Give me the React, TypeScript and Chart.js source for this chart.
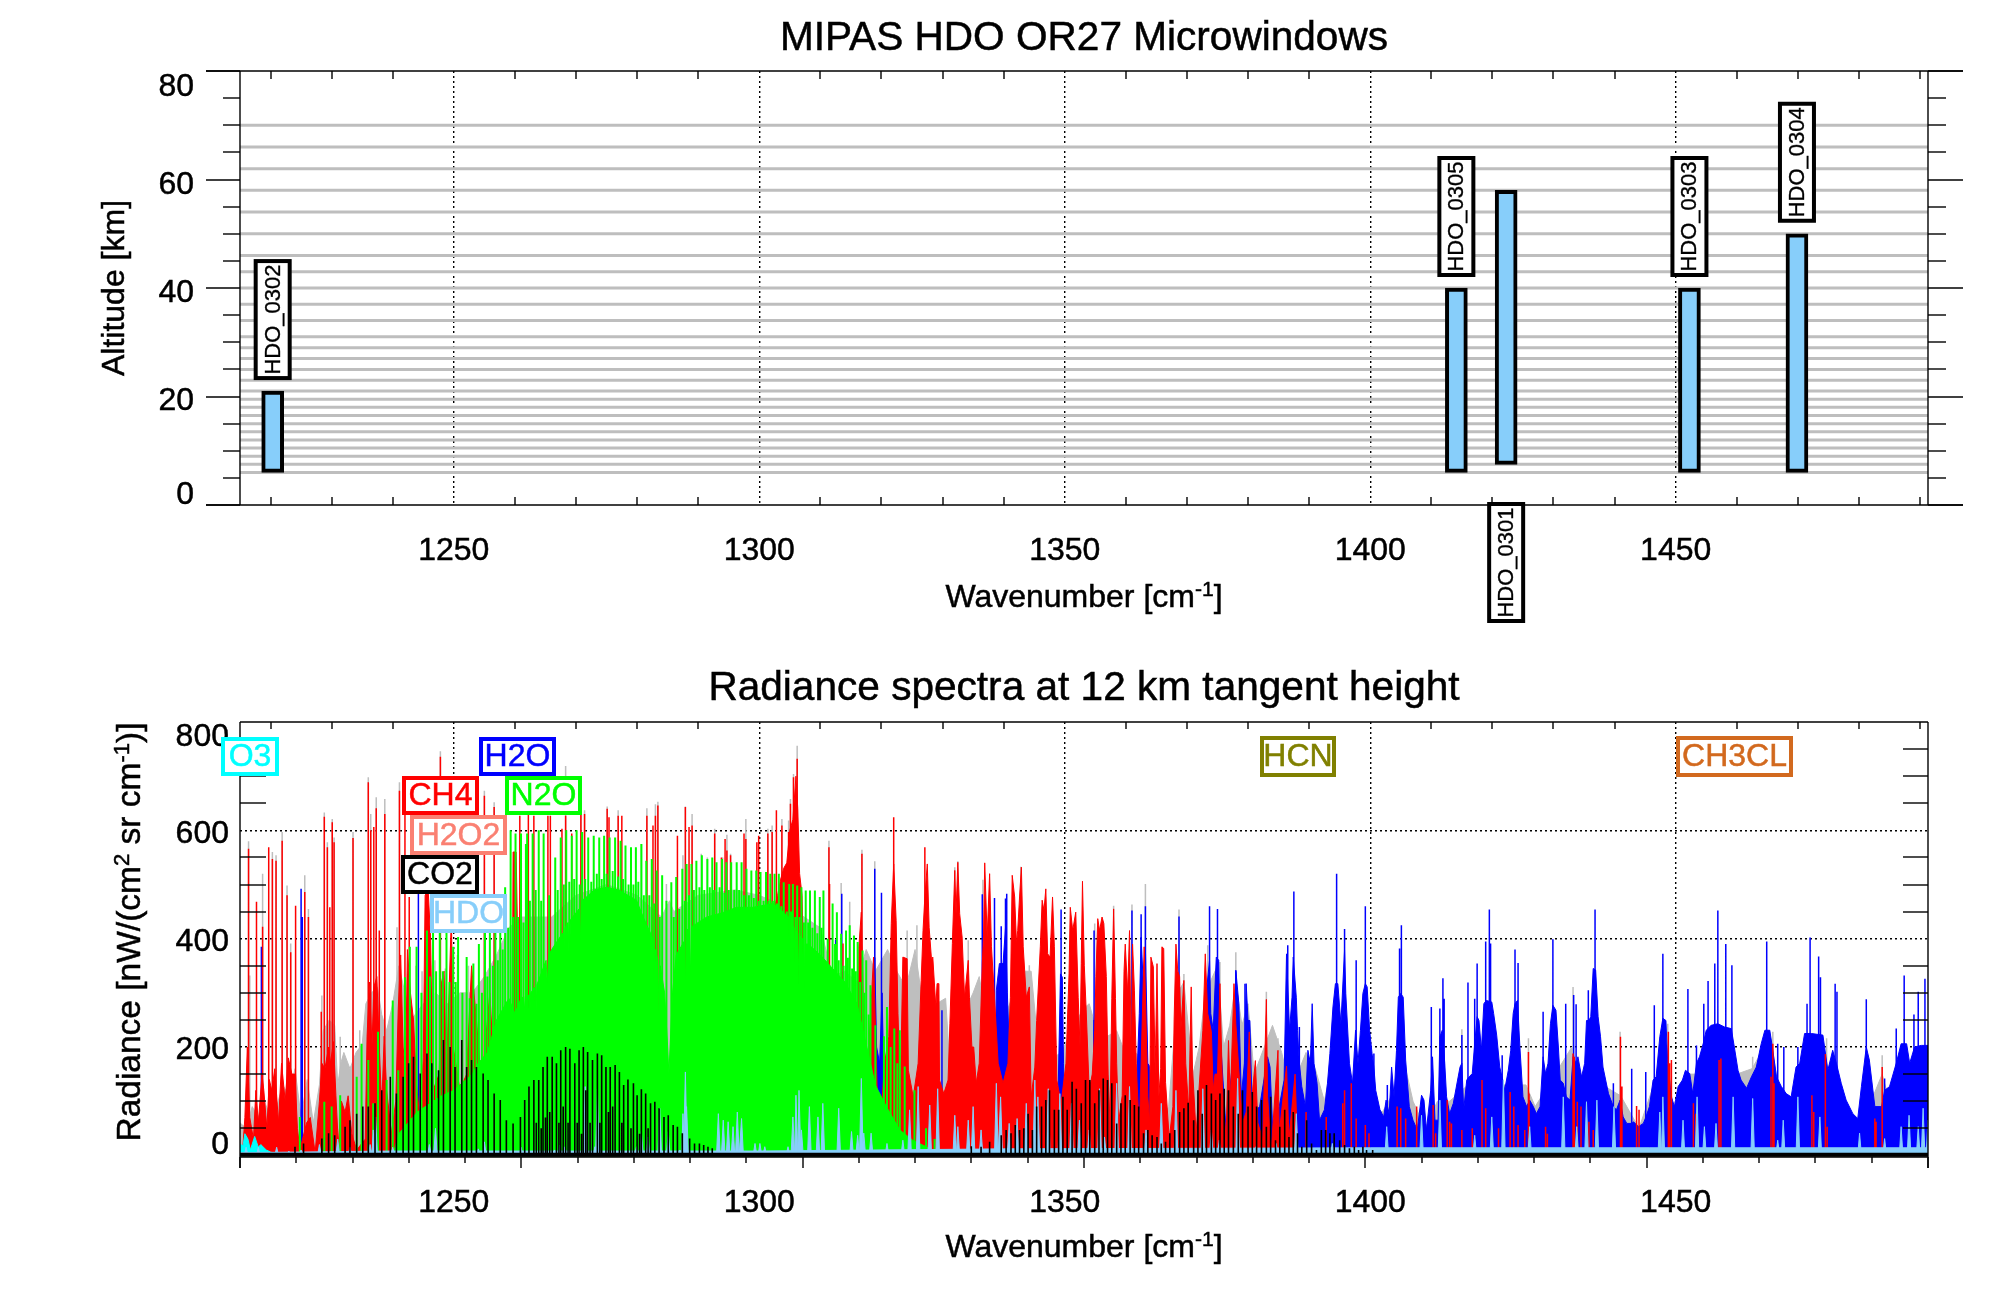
import React, { useEffect, useRef } from "react";
import { Chart, registerables } from "chart.js";

Chart.register(...registerables);

type Pair = [number, number];

const FONT = '"Liberation Sans", Arial, sans-serif';

const topTitle = "MIPAS HDO OR27 Microwindows";
const lowerTitle = "Radiance spectra at 12 km tangent height";
const xTickValues = [1250, 1300, 1350, 1400, 1450];
const xMinorValues = [1220, 1230, 1240, 1260, 1270, 1280, 1290, 1310, 1320, 1330, 1340, 1360, 1370, 1380, 1390, 1410, 1420, 1430, 1440, 1460, 1470, 1480, 1490];
const altMajor = [0, 20, 40, 60, 80];
const altMinor = [5, 10, 15, 25, 30, 35, 45, 50, 55, 65, 70, 75];
const radMajor = [0, 200, 400, 600, 800];
const radMinor = [50, 100, 150, 250, 300, 350, 450, 500, 550, 650, 700, 750];
const tangentHeights = [6, 7.5, 9, 10.5, 12, 13.5, 15, 16.5, 18, 19.5, 21, 23, 25, 27, 29, 31, 34, 37, 40, 43, 46, 50, 54, 58, 62, 66, 70];

const windowNames = ["HDO_0302", "HDO_0305", "HDO_0301", "HDO_0303", "HDO_0304"];
const windowStart = [1218.7, 1412.4, 1420.6, 1450.6, 1468.3];
const windowEnd = [1222.0, 1415.8, 1423.9, 1453.9, 1471.4];
const windowLow = [6, 6, 7.5, 6, 6];
const windowHigh = [21, 40, 58, 40, 50];

const legendNames = ["O3", "H2O", "CH4", "N2O", "H2O2", "CO2", "HDO", "HCN", "CH3CL"];
const legendColors = ["#00ffff", "#0000ff", "#ff0000", "#00ff00", "#fa8072", "#000000", "#87cefa", "#808000", "#d2691e"];

const grayBand: Pair[] = [[1215,60],[1216,50],[1217,90],[1218,70],[1219,100],[1220,70],[1221,90],[1222,130],[1223,110],[1224,160],[1225,70],[1226,140],[1227,60],[1228,130],[1228.6,230],[1229.6,250],[1230.5,240],[1231,130],[1231.5,170],[1232,190],[1233,160],[1234,190],[1235,205],[1235.6,280],[1236.5,300],[1237.5,310],[1238.2,260],[1239,230],[1240,280],[1241,350],[1242,300],[1243,250],[1245,280],[1247,300],[1249,280],[1251,300],[1253,300],[1255,330],[1257,370],[1259,420],[1261,440],[1263,440],[1266,440],[1270,480],[1275,500],[1280,480],[1284,440],[1285.3,470],[1286,450],[1290,480],[1296,490],[1300,480],[1306,450],[1310,420],[1312,330],[1314,340],[1316,320],[1317.5,380],[1319,340],[1321,380],[1322.5,340],[1324,310],[1325.5,380],[1326.5,300],[1329,280],[1330.5,290],[1331,200],[1335,300],[1336,330],[1338,200],[1340,250],[1343,340],[1344.5,340],[1345.5,220],[1348,180],[1349.5,190],[1351,230],[1353,270],[1354,280],[1356,200],[1357,220],[1358.5,230],[1359.5,200],[1361.5,190],[1363.5,170],[1366,60],[1367,90],[1368.5,300],[1369.5,320],[1371,150],[1372,200],[1373,300],[1375,350],[1376,200],[1377,240],[1378,320],[1379,240],[1380,280],[1381,150],[1382,180],[1384,240],[1385.5,190],[1387,120],[1389.5,190],[1391,160],[1392.5,100],[1393.5,160],[1396,120],[1397,130],[1399,100],[1402,80],[1404,120],[1405,200],[1407,100],[1409,50],[1411,100],[1413,100],[1415,120],[1418,150],[1421,130],[1425.5,130],[1427,90],[1433,200],[1434,150],[1438,130],[1441,110],[1444,50],[1448.5,200],[1449.5,90],[1452,150],[1454,150],[1456,200],[1460,150],[1462.5,160],[1465.5,220],[1467,110],[1471,100],[1474,210],[1476,100],[1480,50],[1482,100],[1483.8,150],[1485,100],[1491.3,180]];

const grayLines: Pair[] = [[1216.4,580],[1216.6,332],[1218.7,520],[1220.3,560],[1220.9,554],[1221.9,597],[1222.7,498],[1223.3,391],[1225.6,517],[1226.2,455],[1228.4,295],[1228.8,633],[1229.3,578],[1230.1,621],[1230.4,587],[1231.4,219],[1233.5,597],[1234.6,231],[1236,698],[1236.4,630],[1237.3,661],[1238.7,658],[1240.7,421],[1241.1,689],[1243.8,350],[1244.8,340],[1246.9,360],[1248.6,345],[1250.6,370],[1252.4,350],[1247.8,746],[1255,673],[1256.6,652],[1268.3,719],[1270.8,658],[1271.4,637],[1275.1,644],[1276.9,637],[1280.7,575],[1281.6,641],[1283,648],[1283.4,653],[1284.8,501],[1287.5,554],[1287.9,644],[1289,630],[1290.5,557],[1291.5,550],[1292.7,603],[1294,550],[1294.7,592],[1295.3,557],[1297.8,621],[1301.4,603],[1302.1,609],[1303.7,621],[1304.8,618],[1305.1,658],[1305.6,704],[1306.2,756],[1311.4,581],[1313.4,503],[1314.8,468],[1316.8,564],[1318.9,543],[1324.2,415],[1325.8,425],[1332,532],[1332.5,543],[1334.2,397],[1336.6,509],[1342.8,533],[1344.2,351],[1354.9,428],[1358,461],[1361,463],[1363.2,501],[1368.7,454],[1369.5,335],[1373.4,388],[1375.4,357],[1378,375],[1380,271],[1383,302],[1384.9,216],[1415,233],[1425.9,216],[1433.2,311],[1440.9,228],[1448.7,243],[1462.6,182],[1465.9,228],[1474.7,216],[1483.8,185]];

const blueBand: Pair[] = [[1318.3,0],[1318.6,170],[1318.9,365],[1319.2,200],[1319.7,170],[1320.1,300],[1320.4,130],[1320.7,0],[1338.2,0],[1338.5,60],[1338.8,305],[1339.3,354],[1339.9,354],[1340.3,420],[1340.6,300],[1341,170],[1341.3,40],[1341.5,0],[1348.6,0],[1348.9,108],[1349.3,335],[1349.6,329],[1349.8,170],[1350.1,0],[1354.4,0],[1354.6,100],[1354.8,250],[1355,100],[1355.2,0],[1361.5,0],[1361.8,139],[1362.2,262],[1362.5,403],[1362.8,329],[1363.2,385],[1363.6,170],[1363.9,164],[1364.1,47],[1364.4,0],[1372,0],[1372.3,90],[1373.1,292],[1373.7,360],[1373.9,262],[1374.3,231],[1374.8,366],[1375.2,360],[1375.4,231],[1375.9,139],[1376.4,47],[1377.8,213],[1378,342],[1378.5,280],[1378.9,108],[1379.4,170],[1379.7,317],[1380,249],[1380.3,249],[1380.7,77],[1381.9,90],[1383.2,182],[1383.6,163],[1384,59],[1385.1,90],[1385.9,139],[1386.3,372],[1386.8,231],[1387.2,292],[1387.4,366],[1387.9,292],[1388.1,231],[1388.4,170],[1388.8,127],[1389.4,90],[1389.8,194],[1390.2,170],[1390.5,280],[1390.8,170],[1391.3,133],[1391.7,65],[1392.5,84],[1393,133],[1393.4,188],[1393.9,274],[1394.3,317],[1394.7,317],[1395.2,243],[1395.8,379],[1396,299],[1396.6,170],[1397.1,133],[1397.6,231],[1398,170],[1398.4,231],[1398.8,299],[1399.2,317],[1399.5,311],[1399.9,231],[1400.3,188],[1400.6,163],[1400.9,120],[1401.6,84],[1402.2,71],[1402.6,102],[1403.1,77],[1403.5,163],[1403.9,108],[1404.3,194],[1404.6,292],[1405,299],[1405.4,292],[1405.8,176],[1406.4,90],[1407,65],[1407.7,47],[1408.4,111],[1408.8,102],[1409.2,47],[1409.9,120],[1410.2,182],[1410.6,65],[1411.1,65],[1411.4,219],[1411.8,231],[1412.2,170],[1412.5,108],[1413,77],[1413.6,96],[1414.3,139],[1414.7,163],[1415,170],[1415.3,84],[1415.8,139],[1416.2,145],[1416.7,151],[1417.1,206],[1417.5,256],[1417.8,249],[1418.2,194],[1418.6,280],[1419,286],[1419.9,283],[1420.2,262],[1420.7,222],[1421.2,163],[1421.7,139],[1422,120],[1422.6,157],[1423,194],[1423.4,262],[1423.7,280],[1424.1,286],[1424.5,200],[1425,108],[1425.6,90],[1426.1,102],[1426.7,90],[1427.2,77],[1427.8,90],[1428.3,182],[1428.7,151],[1429.1,170],[1429.5,243],[1429.9,277],[1430.4,268],[1430.8,200],[1431.1,139],[1431.6,133],[1432.1,108],[1432.7,102],[1433.2,182],[1433.7,170],[1434,182],[1434.6,145],[1435.1,170],[1435.4,249],[1435.8,249],[1436.1,256],[1436.5,345],[1436.9,342],[1437.3,256],[1437.7,219],[1438.1,163],[1439,114],[1439.8,90],[1440.3,84],[1440.9,102],[1441.4,71],[1442,59],[1442.8,59],[1443.1,62],[1443.9,53],[1444.7,59],[1445.1,70],[1445.7,90],[1446.3,139],[1446.8,145],[1447.4,219],[1447.9,253],[1448.4,249],[1448.7,170],[1449.3,108],[1449.8,90],[1450.4,127],[1451.1,139],[1451.6,157],[1452.3,151],[1452.8,114],[1453.4,170],[1453.9,182],[1454.5,206],[1455,231],[1455.8,240],[1456.9,243],[1458,237],[1459.1,234],[1459.6,200],[1460.2,157],[1460.7,139],[1461.6,124],[1462.4,145],[1463.2,163],[1464,206],[1464.6,231],[1465.4,231],[1465.9,194],[1466.5,145],[1467.3,127],[1468.1,114],[1468.9,108],[1469.7,163],[1470.3,170],[1471.1,225],[1472.2,225],[1474.1,222],[1474.9,157],[1475.7,194],[1476.3,170],[1477.1,133],[1477.9,102],[1479,77],[1479.8,68],[1480.4,127],[1481.2,200],[1481.7,176],[1482.6,90],[1483.7,90],[1484.2,120],[1485,127],[1486.1,170],[1486.9,206],[1487.8,206],[1488.3,170],[1489.1,200],[1490.2,203],[1491.3,203]];

const blueLines: Pair[] = [[1218.5,385],[1225,492],[1225.2,440],[1244.2,483],[1308.1,418],[1312.5,398],[1313.5,483],[1318.9,529],[1320,485],[1329.9,268],[1336.5,482],[1338.5,475],[1339.6,423],[1340.3,474],[1340.5,483],[1349.4,454],[1354.8,415],[1361,452],[1362.5,445],[1363.2,460],[1368.7,441],[1373.7,460],[1375,455],[1378,340],[1379.5,317],[1386.5,388],[1387.5,487],[1388.4,237],[1394.5,520],[1395.8,418],[1397.7,360],[1399.2,460],[1400.6,188],[1402.8,130],[1404.8,382],[1405.1,425],[1410,274],[1411.4,271],[1411.9,327],[1412.1,289],[1415,222],[1416,319],[1417.1,289],[1417.5,354],[1418.9,395],[1419.5,454],[1419.7,391],[1421.6,185],[1423.7,380],[1424.2,355],[1428.3,265],[1429.9,399],[1432,280],[1433.3,296],[1433.7,279],[1435.7,305],[1436.8,454],[1439.8,133],[1442.8,160],[1445.1,154],[1446.5,277],[1447.9,372],[1452,307],[1453.4,203],[1454.6,280],[1455.3,322],[1456.4,354],[1456.9,452],[1458.2,390],[1459.2,351],[1464.9,395],[1466.7,206],[1467.7,200],[1470,200],[1471.5,280],[1472,402],[1473.4,367],[1473.7,329],[1476.1,317],[1476.4,302],[1481.2,288],[1484.2,142],[1486.1,234],[1487.4,332],[1489,260],[1489.7,302],[1490.8,326]];

const redBand: Pair[] = [[1215,10],[1215.5,20],[1215.8,70],[1216.2,200],[1216.6,70],[1217.2,30],[1217.6,120],[1218,60],[1218.6,150],[1218.9,120],[1219.4,50],[1219.8,140],[1220.2,120],[1220.7,160],[1221.3,60],[1221.8,170],[1222.4,100],[1222.9,180],[1223.5,150],[1224,150],[1224.4,50],[1224.8,10],[1225.9,60],[1226.5,70],[1227.3,5],[1228,100],[1228.4,170],[1228.9,160],[1229.5,200],[1229.8,170],[1230.3,210],[1230.7,110],[1231.1,20],[1231.6,100],[1232.2,80],[1232.7,110],[1233.3,40],[1234.1,10],[1235.5,30],[1235.8,220],[1236.2,320],[1236.6,200],[1236.9,310],[1237.4,330],[1237.8,200],[1238.2,90],[1238.6,220],[1239,120],[1239.8,40],[1240.5,100],[1240.9,270],[1241.3,370],[1241.7,200],[1242.1,150],[1242.4,380],[1242.9,300],[1243.4,250],[1243.9,130],[1244.5,60],[1245,180],[1245.3,480],[1245.8,490],[1246.2,400],[1246.6,120],[1247.6,150],[1248,320],[1248.4,340],[1248.8,150],[1249.6,440],[1249.9,200],[1251,120],[1252.1,150],[1252.9,350],[1253.7,250],[1254.6,120],[1255.1,200],[1255.9,300],[1256.6,150],[1257.6,40],[1259.5,60],[1259.7,560],[1260.2,560],[1260.6,300],[1261.4,150],[1262.4,200],[1262.8,0],[1299.5,0],[1300,400],[1301,420],[1302,440],[1303,480],[1303.5,510],[1304,530],[1304.5,540],[1305,600],[1305.5,620],[1306,700],[1306.3,640],[1306.6,520],[1307,480],[1307.5,200],[1308,0],[1316,0],[1316.3,385],[1316.7,449],[1317.1,243],[1317.5,108],[1318.7,366],[1319.3,120],[1320,84],[1320.5,170],[1321.2,219],[1321.6,428],[1322,538],[1322.4,434],[1322.7,262],[1323.1,120],[1323.5,366],[1324.2,363],[1324.4,157],[1325.2,108],[1326,170],[1326.5,323],[1326.8,415],[1327.1,477],[1327.5,538],[1327.8,421],[1328.2,360],[1328.4,366],[1328.9,274],[1329.1,317],[1329.4,317],[1329.5,139],[1330.2,114],[1330.9,139],[1331.2,243],[1331.6,391],[1332,526],[1332.2,446],[1332.5,541],[1332.8,446],[1333.2,403],[1333.6,292],[1334.2,360],[1334.4,292],[1334.8,200],[1335.1,200],[1335.5,133],[1336,170],[1336.5,354],[1336.7,403],[1336.9,540],[1337.3,403],[1337.7,520],[1338,385],[1338.5,292],[1339.1,170],[1339.9,133],[1340.7,170],[1341.1,292],[1341.4,517],[1341.8,477],[1342.1,391],[1342.3,415],[1342.6,477],[1342.9,532],[1343.2,385],[1343.7,292],[1344.2,311],[1344.5,108],[1345.1,163],[1345.4,249],[1346,385],[1346.3,471],[1346.6,452],[1346.9,492],[1347.2,372],[1347.6,366],[1348,477],[1348.3,385],[1348.7,139],[1349.4,96],[1350.2,170],[1350.7,335],[1350.9,458],[1351.3,415],[1351.8,449],[1352.2,292],[1352.5,200],[1352.7,354],[1352.9,506],[1353.2,350],[1353.5,270],[1354,120],[1354.5,150],[1354.9,231],[1355.1,330],[1355.4,437],[1355.7,415],[1356.1,440],[1356.4,428],[1356.8,330],[1357.1,150],[1357.4,60],[1357.7,290],[1358,455],[1358.3,290],[1358.5,170],[1358.8,60],[1359.4,110],[1359.7,340],[1359.9,390],[1360.3,300],[1360.6,415],[1360.9,170],[1361.1,390],[1361.4,305],[1361.7,170],[1362.2,40],[1363,385],[1363.3,250],[1363.6,108],[1363.9,60],[1364.1,366],[1364.5,348],[1364.8,150],[1365.1,354],[1365.4,108],[1365.7,160],[1365.9,385],[1366.2,382],[1366.5,135],[1367.1,30],[1367.7,90],[1367.9,250],[1368.2,390],[1368.5,340],[1368.8,330],[1369,231],[1369.5,323],[1369.8,170],[1370.3,80],[1370.7,311],[1370.9,163],[1371.5,40],[1372.6,230],[1373,372],[1373.4,262],[1374,228],[1374.3,120],[1374.6,150],[1375,150],[1375.4,317],[1375.8,130],[1376.4,30],[1376.8,212],[1377.1,100],[1377.7,317],[1378,243],[1378.5,157],[1379.1,60],[1379.7,80],[1380.2,228],[1380.5,90],[1381.2,175],[1381.6,60],[1382.4,30],[1383,288],[1383.2,108],[1383.8,10],[1384.9,194],[1385.1,40],[1386.3,165],[1386.7,30],[1387.7,150],[1388.1,15],[1388.4,0]];

const redLines: Pair[] = [[1216.4,566],[1217.7,468],[1218.7,422],[1219.7,569],[1220.3,547],[1220.9,544],[1221.9,581],[1222.7,480],[1223.3,375],[1224.1,461],[1225.6,486],[1226.2,440],[1228.3,265],[1228.8,625],[1229.3,569],[1229.7,458],[1230.1,615],[1230.4,578],[1233.5,586],[1236,689],[1236.4,600],[1236.9,606],[1237.3,641],[1237.8,415],[1238.7,630],[1241.1,673],[1242,630],[1242.7,477],[1247.8,736],[1255,664],[1256.6,643],[1260.8,627],[1262.2,630],[1263.1,627],[1265.4,627],[1265.8,627],[1267.7,603],[1268.3,627],[1269.3,594],[1270.8,655],[1271.4,630],[1275.1,640],[1275.4,624],[1276.9,627],[1277.5,627],[1281.6,627],[1282.6,609],[1283,627],[1283.4,646],[1286.6,590],[1287.9,643],[1288.5,606],[1289,609],[1292.7,594],[1293.8,550],[1294.4,584],[1294.7,563],[1295.3,554],[1297.5,594],[1297.8,584],[1299.6,578],[1299.9,590],[1301.4,594],[1302.1,597],[1302.8,637],[1303.7,609],[1304.8,597],[1305.1,649],[1305.6,698],[1306.2,732],[1311.4,569],[1311.5,501],[1313.7,391],[1316.8,557],[1322,624],[1327.1,569],[1389.5,80],[1392.8,71],[1395.5,96],[1395.8,120],[1396.9,133],[1397.7,68],[1399.2,56],[1399.8,41],[1404.4,90],[1405,87],[1405.8,68],[1407.6,90],[1410.3,93],[1410.7,41],[1412.6,102],[1413,62],[1413.3,59],[1415,47],[1416.7,50],[1418.3,139],[1418.9,87],[1421,50],[1422.9,117],[1423.5,90],[1424.2,56],[1425.3,47],[1425.9,191],[1426,114],[1428.7,53],[1429,40],[1433.2,188],[1433.4,182],[1433.9,99],[1434.5,90],[1435.8,62],[1436.5,47],[1440.9,219],[1441,170],[1441.2,127],[1443.6,91],[1444,84],[1448.8,228],[1449,170],[1449.3,176],[1452.9,96],[1453.3,77],[1457.1,176],[1457.4,179],[1465.6,145],[1465.9,206],[1466.1,133],[1472.3,111],[1472.6,80],[1474.5,187],[1474.8,53],[1482.6,68],[1482.8,62],[1483.8,163]];

const greenBand: Pair[] = [[1240,0],[1241,40],[1244,80],[1248,110],[1250,120],[1252,140],[1253,150],[1254,170],[1255.5,190],[1257,250],[1258,270],[1259,290],[1260,262],[1261,290],[1261.3,292],[1261.5,262],[1261.7,294],[1262.2,296],[1262.4,250],[1262.6,300],[1263.2,310],[1263.4,250],[1263.6,315],[1265.1,360],[1265.3,317],[1265.5,370],[1266.3,385],[1267.8,410],[1268,378],[1268.2,420],[1268.7,430],[1268.9,354],[1269.1,435],[1270.5,455],[1270.7,391],[1270.9,470],[1271.7,477],[1273,490],[1275,495],[1277,490],[1279.9,471],[1281,440],[1282.6,400],[1282.8,311],[1283,380],[1283.4,360],[1283.6,256],[1283.8,350],[1284.5,300],[1285,200],[1285.2,151],[1285.4,200],[1285.8,300],[1286.4,370],[1287.7,395],[1287.9,305],[1288.1,415],[1288.5,420],[1288.7,323],[1288.9,422],[1291.4,440],[1294,448],[1296.3,458],[1299,458],[1302.3,465],[1304.8,440],[1305,323],[1305.2,430],[1305.7,420],[1305.9,329],[1306.1,415],[1306.3,410],[1306.5,314],[1306.7,405],[1307.1,400],[1307.3,286],[1307.5,390],[1308,390],[1310,370],[1312,345],[1314,320],[1316,280],[1317,230],[1318,180],[1319,130],[1320.8,90],[1323,47],[1325.1,28],[1327.3,16],[1329.5,0]];

const greenLines: Pair[] = [[1224.8,71],[1228.8,99],[1230,90],[1231.4,111],[1234.1,145],[1234.9,206],[1236,176],[1236.8,96],[1237.6,228],[1239,139],[1240,286],[1240.9,157],[1242,329],[1242.8,385],[1243.9,385],[1245.6,415],[1246.6,440],[1247.7,415],[1248.8,415],[1249.9,385],[1250.7,403],[1252.1,366],[1253.2,354],[1254.1,390],[1255.1,415],[1255.9,440],[1256.8,458],[1257.6,477],[1258.4,495],[1259.3,600],[1260.1,594],[1261,594],[1261.8,575],[1262,594],[1262.9,594],[1263.9,600],[1264.7,594],[1266.6,550],[1267.5,587],[1268.4,600],[1269.3,590],[1270.1,600],[1271,597],[1272,587],[1272.9,590],[1273.8,587],[1274.6,590],[1275.5,587],[1276.4,587],[1277.3,581],[1278.1,572],[1279,569],[1279.8,569],[1280.7,575],[1281.5,544],[1282.4,547],[1283.2,526],[1284.1,517],[1284.8,470],[1285.6,504],[1286.4,514],[1287.4,529],[1288.1,538],[1288.9,538],[1289.7,544],[1290.6,554],[1291.5,547],[1292.3,550],[1293,541],[1293.9,547],[1294.6,541],[1295.4,541],[1296.3,541],[1297.1,541],[1297.9,529],[1298.7,526],[1299.5,526],[1300.2,523],[1301.1,523],[1301.8,520],[1302.5,520],[1303.2,520],[1304,504],[1304.9,501],[1305.5,501],[1306.2,498],[1306.9,495],[1307.6,489],[1308.3,489],[1309.1,489],[1309.9,477],[1310.5,489],[1312,465],[1312.7,449],[1313.4,409],[1314.2,415],[1314.8,425],[1315.5,406],[1316.1,394],[1316.9,378],[1317.5,360],[1318.2,314],[1320.9,274],[1322.1,234],[1323,231],[1323.8,164],[1325.4,120],[1327.3,50],[1328.7,30]];

const greenMidLines: Pair[] = [[1244.7,300],[1246.1,330],[1247.1,340],[1248.2,340],[1249.3,320],[1250.3,320],[1251.4,300],[1252.6,290],[1253.7,280],[1254.6,300],[1255.5,330],[1256.4,350],[1257.2,360],[1258,380],[1258.9,420],[1259.7,440],[1260.5,440],[1261.4,430],[1262.45,470],[1263.4,490],[1264.3,470],[1265.6,480],[1267,490],[1268,500],[1268.9,505],[1269.7,510],[1270.6,500],[1271.5,510],[1272.5,505],[1273.4,520],[1274.2,510],[1275,520],[1276,525],[1276.9,515],[1277.7,510],[1278.6,500],[1279.4,500],[1280.2,505],[1281.1,480],[1282,480],[1282.8,465],[1283.7,440],[1286,440],[1286.9,455],[1287.8,470],[1288.5,480],[1289.3,490],[1290.2,495],[1291,490],[1291.9,495],[1292.6,490],[1293.5,495],[1294.3,485],[1295,490],[1295.9,490],[1296.7,490],[1297.5,480],[1298.3,480],[1299.1,475],[1299.9,470],[1300.7,470],[1301.5,470],[1302.2,470],[1302.9,465],[1303.6,460],[1304.5,450],[1305.2,450],[1305.9,440],[1306.6,440],[1307.3,430],[1308,430],[1308.7,420],[1309.5,410],[1310.2,420],[1311.2,400],[1312.4,390],[1313,360],[1313.8,350],[1314.5,365],[1315.2,345],[1315.8,340],[1316.5,320],[1317.2,300],[1317.9,260],[1319,240],[1320.4,220],[1321.5,200],[1322.6,170]];

const ozoneBand: Pair[] = [[1215,20],[1215.5,18],[1215.8,40],[1216.3,30],[1216.7,10],[1217.4,35],[1218,15],[1218.4,20],[1219.3,10],[1220,6],[1221,3],[1225,4],[1226,0]];

const hcnLines: Pair[] = [[1405.5,5],[1429.4,9],[1432.5,9],[1438.7,12],[1441.8,10],[1445,8],[1488,8],[1445.2,8]];

const hdoFloor: Pair[] = [[1215,5],[1240,8],[1300,8],[1340,12],[1400,14],[1491.3,14]];

const hdoPeaks: Pair[] = [[1216,15],[1218,15],[1221,15],[1223,8],[1225,10],[1228,20],[1231,30],[1233,15],[1236.3,20],[1236.8,47],[1237.2,71],[1240,15],[1246,20],[1247,50],[1254,12],[1255,25],[1261,15],[1266.5,10],[1267.3,19],[1268.2,16],[1271.2,10],[1271.5,127],[1273.1,16],[1273.5,123],[1279.9,16],[1280.7,44],[1281.8,34],[1283.7,87],[1285.1,44],[1287,10],[1287.5,77],[1287.9,154],[1288.1,90],[1293.3,77],[1294.1,65],[1294.9,62],[1295.7,53],[1296.4,80],[1297.1,68],[1299.3,22],[1300.1,22],[1300.9,16],[1302.3,7],[1304.7,16],[1305.5,71],[1306,111],[1306.5,120],[1306.9,47],[1308.2,90],[1309.6,71],[1310.4,96],[1313,87],[1315.1,44],[1316.1,37],[1316.7,142],[1317.1,41],[1318.3,41],[1320.9,22],[1323.5,28],[1324.6,84],[1326,127],[1327.9,93],[1329.2,123],[1332,74],[1332.5,53],[1334.2,65],[1335,90],[1336.3,47],[1338.8,133],[1339.5,108],[1340.9,59],[1342.2,68],[1343.7,96],[1345.1,139],[1345.6,108],[1347.3,123],[1349.2,114],[1351.1,96],[1352.4,65],[1354,47],[1355.7,123],[1356.5,34],[1358.5,133],[1360.6,127],[1363.3,47],[1365.8,96],[1368.2,120],[1372.6,123],[1374,47],[1375.3,28],[1378.3,142],[1381.3,16],[1384.6,22],[1387.9,77],[1393.8,22],[1402.7,53],[1408.4,74],[1411.4,102],[1417.1,37],[1419.9,71],[1421.8,139],[1426.1,53],[1431.6,108],[1433.8,53],[1435.4,99],[1437.1,102],[1439.9,90],[1447.4,80],[1447.9,108],[1451.2,65],[1453.5,108],[1454.7,53],[1456.6,59],[1459.4,108],[1462.6,105],[1466.7,28],[1467.6,65],[1470,108],[1473.6,71],[1480.1,41],[1484.2,31],[1486.9,53],[1488.2,74],[1489.7,53],[1490.5,87],[1491.3,65]];

const co2Lines: Pair[] = [[1224,16],[1225.4,22],[1228.4,31],[1229.5,41],[1230.5,37],[1232.2,53],[1233,65],[1234.1,77],[1235.1,90],[1236,90],[1237.1,96],[1238.2,120],[1239.6,145],[1240.6,114],[1241.7,145],[1242.6,170],[1243.4,182],[1244.5,151],[1245.6,188],[1246.4,170],[1247.5,157],[1248.3,213],[1249.4,200],[1250.2,163],[1251.3,213],[1252.1,163],[1252.9,176],[1253.7,163],[1254.8,151],[1255.6,139],[1256.6,114],[1257.6,102],[1258.6,65],[1259.7,59],[1260.9,71],[1261.6,102],[1262.3,127],[1263.1,139],[1263.5,60],[1263.9,139],[1264.3,50],[1264.6,163],[1265,70],[1265.3,182],[1265.7,80],[1266.1,182],[1266.8,170],[1267.2,60],[1267.5,194],[1267.9,90],[1268.3,200],[1268.7,60],[1269,197],[1269.8,170],[1270.2,60],[1270.5,194],[1270.9,40],[1271.2,200],[1271.6,120],[1271.9,191],[1272.3,60],[1272.7,176],[1273.5,188],[1273.9,60],[1274.2,185],[1274.9,163],[1275.3,80],[1275.6,163],[1276,90],[1276.4,167],[1277.1,154],[1277.5,60],[1277.8,130],[1278.5,140],[1279,50],[1279.4,133],[1280,111],[1280.4,40],[1280.7,122],[1281.4,114],[1281.8,50],[1282.2,96],[1282.9,99],[1283.6,87],[1284.4,71],[1285.1,74],[1285.9,56],[1286.6,53],[1287.4,41],[1288.6,31],[1289.4,22],[1290.2,22],[1290.9,19],[1291.6,16],[1292.3,13],[1334.7,17],[1336.3,16],[1337.7,25],[1339.6,37],[1340.4,47],[1341.2,41],[1341.9,56],[1342.6,47],[1343.3,50],[1344,77],[1344.7,47],[1345.4,90],[1346.2,90],[1346.9,102],[1347.5,120],[1348.3,84],[1349,84],[1349.7,108],[1350.4,84],[1351.2,136],[1351.9,123],[1352.7,96],[1353.4,139],[1354.1,139],[1354.9,96],[1355.6,120],[1356.3,142],[1357,139],[1357.7,133],[1358.5,59],[1359.2,96],[1359.9,111],[1360.7,102],[1361.4,93],[1362.1,90],[1362.9,41],[1363.6,47],[1364.3,37],[1365.1,34],[1365.8,22],[1366.5,25],[1367.2,41],[1368,47],[1368.8,80],[1369.5,87],[1370.2,97],[1371.1,65],[1371.8,120],[1372.5,77],[1373.2,130],[1374,114],[1374.7,102],[1375.4,114],[1376.1,123],[1376.8,120],[1377.6,90],[1378.4,77],[1379.1,120],[1380,90],[1380.7,117],[1381.4,90],[1382.2,102],[1383,53],[1383.7,108],[1384.5,28],[1385.2,53],[1386,84],[1386.7,34],[1387.4,80],[1388.1,41],[1388.8,16],[1389.6,65],[1390.4,22],[1391.2,10],[1392,47],[1392.7,47],[1393.4,41],[1394.1,41],[1395,28],[1395.8,19],[1396.6,13],[1397.4,16],[1398.1,10],[1398.8,16],[1399.4,10],[1400.4,10]];

const co2Floor: Pair[] = [[1215,1],[1491.3,1]];
const xRange: Pair = [1215, 1491.3];
const altRange: Pair = [0, 80];
const radRange: Pair = [-3, 800];

const sorted = (list: Pair[]) => [...list].sort((a, b) => a[0] - b[0]);
const bandData = (list: Pair[]) => sorted(list).map(([x, y]) => ({ x, y }));
const lineData = (list: Pair[]) =>
  sorted(list).flatMap(([x, y]) => [{ x, y: 0 }, { x, y }, { x, y: 0 }]);
const peakData = (list: Pair[], half: number) =>
  sorted(list).flatMap(([x, y]) => [{ x: x - half, y: 0 }, { x, y }, { x: x + half, y: 0 }]);

const areaStyle = (color: string) => ({
  type: "line" as const,
  borderColor: color,
  backgroundColor: color,
  borderWidth: 1,
  fill: "origin",
  pointRadius: 0,
  tension: 0,
});
const band = (list: Pair[], color: string) => ({ ...areaStyle(color), data: bandData(list) });
const peaks = (list: Pair[], color: string, half: number) => ({ ...areaStyle(color), data: peakData(list, half) });
const spikes = (list: Pair[], color: string, width = 1.5) => ({
  type: "line" as const,
  data: lineData(list),
  borderColor: color,
  borderWidth: width,
  borderJoinStyle: "bevel" as const,
  fill: false,
  pointRadius: 0,
  tension: 0,
});

function heavyText(ctx: CanvasRenderingContext2D, text: string, x: number, y: number, weight = 0.5) {
  ctx.fillText(text, x, y);
  ctx.save();
  ctx.strokeStyle = ctx.fillStyle as string;
  ctx.lineWidth = weight;
  ctx.strokeText(text, x, y);
  ctx.restore();
}

function richText(ctx: CanvasRenderingContext2D, parts: [string, boolean][], size: number, cx: number, cy: number, angle: number) {
  ctx.save();
  ctx.translate(cx, cy);
  ctx.rotate(angle);
  ctx.fillStyle = "#000";
  ctx.textAlign = "left";
  ctx.textBaseline = "alphabetic";
  const small = size * 0.66;
  let total = 0;
  for (const [t, sup] of parts) {
    ctx.font = `${sup ? small : size}px ${FONT}`;
    total += ctx.measureText(t).width;
  }
  let x = -total / 2;
  for (const [t, sup] of parts) {
    ctx.font = `${sup ? small : size}px ${FONT}`;
    heavyText(ctx, t, x, sup ? size * 0.02 : size * 0.36);
    x += ctx.measureText(t).width;
  }
  ctx.restore();
}

function line(ctx: CanvasRenderingContext2D, x0: number, y0: number, x1: number, y1: number) {
  ctx.beginPath();
  ctx.moveTo(x0, y0);
  ctx.lineTo(x1, y1);
  ctx.stroke();
}

const wavenumberParts: [string, boolean][] = [["Wavenumber [cm", false], ["-1", true], ["]", false]];
const altitudeParts: [string, boolean][] = [["Altitude [km]", false]];
const radianceParts: [string, boolean][] = [["Radiance [nW/(cm", false], ["2", true], [" sr cm", false], ["-1", true], [")]", false]];

const altLabelShift = [-10, 5, 5, 6, 16];
const radLabelShift = [-10, 3, 3, 4, 15];

const topFrame = {
  id: "topFrame",
  afterDraw(chart: any) {
    const { ctx, chartArea: a, scales } = chart;
    const x = scales.x, y = scales.y;
    ctx.save();
    ctx.strokeStyle = "#000";
    ctx.lineWidth = 1.4;
    line(ctx, a.left, a.top, a.left, a.bottom);
    line(ctx, a.right, a.top, a.right, a.bottom);
    altMajor.forEach((v) => {
      const p = Math.round(y.getPixelForValue(v));
      line(ctx, a.left - 34, p, a.left, p);
      line(ctx, a.right, p, a.right + 35, p);
    });
    altMinor.forEach((v) => {
      const p = Math.round(y.getPixelForValue(v));
      line(ctx, a.left - 17, p, a.left, p);
      line(ctx, a.right, p, a.right + 18, p);
    });
    xMinorValues.forEach((v) => {
      const p = Math.round(x.getPixelForValue(v));
      line(ctx, p, a.top, p, a.top + 8);
      line(ctx, p, a.bottom - 8, p, a.bottom);
    });
    ctx.fillStyle = "#000";
    ctx.font = `32px ${FONT}`;
    ctx.textAlign = "right";
    ctx.textBaseline = "middle";
    altMajor.forEach((v, i) => heavyText(ctx, String(v), 194, y.getPixelForValue(v) + altLabelShift[i]));
    ctx.textAlign = "center";
    ctx.font = `40.6px ${FONT}`;
    heavyText(ctx, topTitle, (a.left + a.right) / 2, 39);
    richText(ctx, wavenumberParts, 32, (a.left + a.right) / 2, 595, 0);
    richText(ctx, altitudeParts, 32, 112, 288, -Math.PI / 2);
    windowNames.forEach((name, i) => {
      const cx = x.getPixelForValue((windowStart[i] + windowEnd[i]) / 2);
      const below = name === "HDO_0301";
      const yTop = below ? a.bottom - 1 : y.getPixelForValue(windowHigh[i]) - 130;
      ctx.fillStyle = "#fff";
      ctx.strokeStyle = "#000";
      ctx.lineWidth = 4;
      ctx.fillRect(cx - 17, yTop, 34, 117);
      ctx.strokeRect(cx - 17, yTop, 34, 117);
      ctx.save();
      ctx.translate(cx, yTop + 58.5);
      ctx.rotate(-Math.PI / 2);
      ctx.fillStyle = "#000";
      ctx.font = `22px ${FONT}`;
      ctx.textAlign = "center";
      ctx.textBaseline = "middle";
      heavyText(ctx, name, 0, 1, 0.35);
      ctx.restore();
    });
    ctx.lineWidth = 1.4;
    ctx.strokeStyle = "#000";
    line(ctx, a.left - 34, a.top, a.right + 35, a.top);
    line(ctx, a.left - 34, a.bottom, a.right + 35, a.bottom);
    ctx.restore();
  },
};

const legendBoxes: [number, number, number, number][] = [
  [223, 89, 54, 35], [481, 89, 73, 35], [404, 128, 73, 35], [507, 128, 73, 35], [412, 167, 93, 36], [403, 207, 74, 35], [432, 246, 73, 35], [1262, 88, 72, 37], [1678, 88, 113, 37],
];

const lowerFrame = {
  id: "lowerFrame",
  afterDraw(chart: any) {
    const { ctx, chartArea: a, scales } = chart;
    const x = scales.x, y = scales.y;
    ctx.save();
    ctx.strokeStyle = "#000";
    ctx.lineWidth = 1.4;
    line(ctx, a.left, a.top, a.left, a.bottom + 11);
    line(ctx, a.right, a.top, a.right, a.bottom + 11);
    line(ctx, a.left, a.top, a.right, a.top);
    line(ctx, a.left, a.bottom, a.right, a.bottom);
    radMinor.forEach((v) => {
      const p = Math.round(y.getPixelForValue(v));
      line(ctx, a.left, p, a.left + 26, p);
      line(ctx, a.right - 25, p, a.right, p);
    });
    xMinorValues.forEach((v) => {
      const p = Math.round(x.getPixelForValue(v));
      line(ctx, p, a.top, p, a.top + 7);
    });
    const width = a.right - a.left;
    for (let i = 0; i <= 30; i++) {
      const p = Math.round(a.left + (width * i) / 30);
      line(ctx, p, a.bottom, p, a.bottom + (i % 5 === 0 ? 11 : 6));
    }
    ctx.fillStyle = "#000";
    ctx.font = `32px ${FONT}`;
    ctx.textAlign = "right";
    ctx.textBaseline = "middle";
    radMajor.forEach((v, i) => heavyText(ctx, String(v), 229, y.getPixelForValue(v) + radLabelShift[i]));
    ctx.textAlign = "center";
    ctx.font = `40.6px ${FONT}`;
    heavyText(ctx, lowerTitle, (a.left + a.right) / 2, 39);
    richText(ctx, wavenumberParts, 32, (a.left + a.right) / 2, 595, 0);
    richText(ctx, radianceParts, 33.5, 128, 282, -Math.PI / 2);
    legendNames.forEach((name, i) => {
      const [bx, by, bw, bh] = legendBoxes[i];
      ctx.fillStyle = "#fff";
      ctx.strokeStyle = legendColors[i];
      ctx.lineWidth = 4;
      ctx.fillRect(bx, by, bw, bh);
      ctx.strokeRect(bx, by, bw, bh);
      ctx.fillStyle = legendColors[i];
      ctx.font = `32px ${FONT}`;
      ctx.textAlign = "center";
      ctx.textBaseline = "middle";
      heavyText(ctx, name, bx + bw / 2, by + bh / 2 + 1);
    });
    ctx.restore();
  },
};

const baseXScale = (height: number) => ({
  type: "linear" as const,
  min: xRange[0],
  max: xRange[1],
  offset: false,
  afterBuildTicks: (s: any) => { s.ticks = xTickValues.map((value) => ({ value })); },
  afterFit: (s: any) => { s.height = height; },
  grid: { color: "#000", lineWidth: 1.4, drawTicks: false, offset: false },
  border: { display: false, dash: [2, 3] },
  ticks: { color: "#000", font: { family: FONT, size: 32 }, padding: 27, maxRotation: 0, autoSkip: false, textStrokeColor: "#000", textStrokeWidth: 0.5, callback: (v: any) => String(v) },
});

const common = {
  responsive: false,
  animation: false as const,
  devicePixelRatio: 1,
  events: [] as string[],
  plugins: { legend: { display: false }, tooltip: { enabled: false }, title: { display: false } },
};

export default function App() {
  const topRef = useRef<HTMLCanvasElement>(null);
  const lowerRef = useRef<HTMLCanvasElement>(null);

  useEffect(() => {
    const levelSets = tangentHeights.map((h) => ({
      type: "line" as const,
      data: [{ x: xRange[0], y: h }, { x: xRange[1], y: h }],
      borderColor: "#bebebe",
      borderWidth: 3,
      pointRadius: 0,
      order: 5,
    }));
    const top = new Chart(topRef.current!, {
      type: "bar",
      data: {
        datasets: [
          {
            type: "bar",
            data: windowNames.map((_, i) => ({ x: (windowStart[i] + windowEnd[i]) / 2, y: [windowLow[i], windowHigh[i]] })),
            backgroundColor: "#87cefa",
            borderColor: "#000",
            borderWidth: 4,
            borderSkipped: false,
            barThickness: 22,
            grouped: false,
            order: 1,
          } as any,
          ...levelSets,
        ],
      },
      options: {
        ...common,
        layout: { padding: { left: 240, right: 72, top: 71, bottom: 0 } },
        scales: {
          x: baseXScale(145),
          y: {
            min: altRange[0],
            max: altRange[1],
            afterFit: (s: any) => { s.width = 0; },
            ticks: { display: false },
            grid: { display: false },
            border: { display: false },
          },
        },
      } as any,
      plugins: [topFrame],
    });

    const layers = [
      band(grayBand, "#bebebe"),
      spikes(grayLines, "#bebebe"),
      band(blueBand, "#0000ff"),
      spikes(blueLines, "#0000ff"),
      band(redBand, "#ff0000"),
      spikes(redLines, "#ff0000"),
      band(greenBand, "#00ff00"),
      spikes(greenMidLines, "#00ff00", 2),
      spikes(greenLines, "#00ff00", 2),
      band(ozoneBand, "#00ffff"),
      spikes(hcnLines, "#808000", 2),
      band(hdoFloor, "#87cefa"),
      peaks(hdoPeaks, "#87cefa", 0.3),
      spikes(co2Lines, "#000000", 1.6),
      { ...spikes(co2Floor, "#000000", 4), data: bandData(co2Floor) },
    ];
    const lower = new Chart(lowerRef.current!, {
      type: "line",
      data: { datasets: layers.map((d, i) => ({ ...d, order: layers.length - i })) as any },
      options: {
        ...common,
        layout: { padding: { left: 240, right: 72, top: 72, bottom: 0 } },
        scales: {
          x: baseXScale(143),
          y: {
            min: radRange[0],
            max: radRange[1],
            afterFit: (s: any) => { s.width = 0; },
            afterBuildTicks: (s: any) => { s.ticks = radMajor.slice(1, 4).map((value) => ({ value })); },
            ticks: { display: false },
            grid: { color: "#000", lineWidth: 1.4, drawTicks: false },
            border: { display: false, dash: [2, 3] },
          },
        },
      } as any,
      plugins: [lowerFrame],
    });
    return () => {
      top.destroy();
      lower.destroy();
    };
  }, []);

  return (
    <div style={{ position: "absolute", left: 0, top: 0, width: 2000, height: 1300, background: "#fff", overflow: "hidden" }}>
      <canvas ref={topRef} width={2000} height={650} style={{ position: "absolute", left: 0, top: 0 }} />
      <canvas ref={lowerRef} width={2000} height={650} style={{ position: "absolute", left: 0, top: 650 }} />
    </div>
  );
}
